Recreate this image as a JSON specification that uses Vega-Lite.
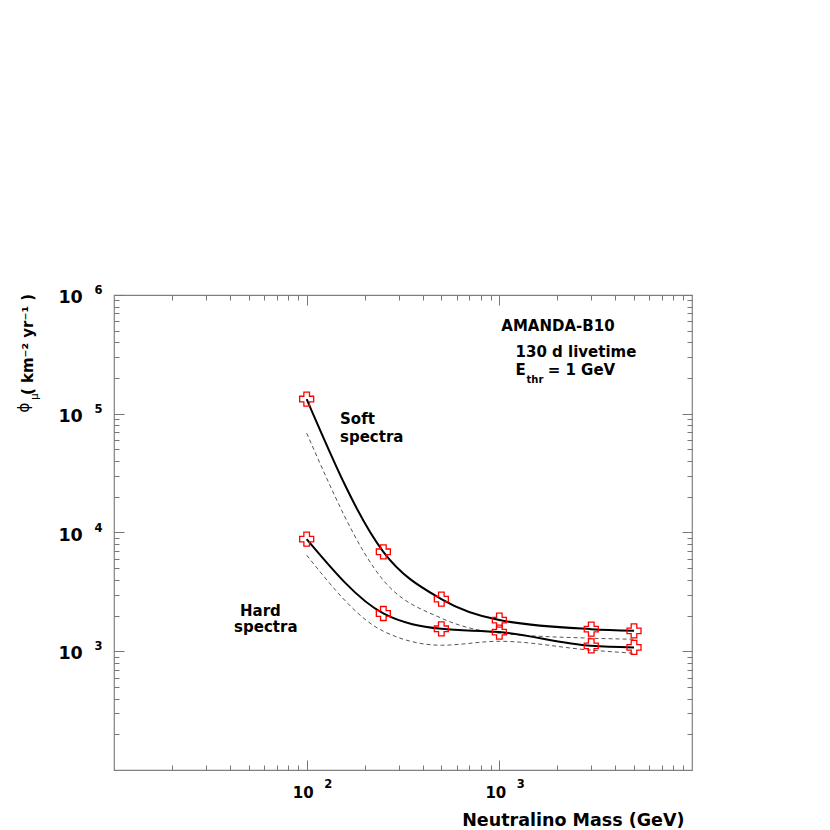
{
  "$schema": "https://vega.github.io/schema/vega-lite/v6.json",
  "width": 578,
  "height": 475,
  "autosize": {"type": "none"},
  "padding": {"left": 114, "top": 295, "right": 138, "bottom": 60},
  "background": "white",
  "config": {
    "view": {"stroke": "#808080", "strokeWidth": 1.2},
    "axis": {"domain": false, "grid": false, "labelFont": "DejaVu Sans", "titleFont": "DejaVu Sans", "labelColor": "black", "titleColor": "black", "tickColor": "#777777", "tickWidth": 1, "labelOverlap": false, "labelFlush": false, "labelBound": false},
    "text": {"font": "DejaVu Sans"}
  },
  "datasets": {
    "curves": [
      {"spectrum": "Soft", "kind": "solid", "mass": 100, "flux": 133000},
      {"spectrum": "Soft", "kind": "solid", "mass": 250, "flux": 6880},
      {"spectrum": "Soft", "kind": "solid", "mass": 500, "flux": 2750},
      {"spectrum": "Soft", "kind": "solid", "mass": 1000, "flux": 1830},
      {"spectrum": "Soft", "kind": "solid", "mass": 3000, "flux": 1535},
      {"spectrum": "Soft", "kind": "solid", "mass": 5000, "flux": 1485},
      {"spectrum": "Hard", "kind": "solid", "mass": 100, "flux": 8790},
      {"spectrum": "Hard", "kind": "solid", "mass": 250, "flux": 2080},
      {"spectrum": "Hard", "kind": "solid", "mass": 500, "flux": 1545},
      {"spectrum": "Hard", "kind": "solid", "mass": 1000, "flux": 1450},
      {"spectrum": "Hard", "kind": "solid", "mass": 3000, "flux": 1110},
      {"spectrum": "Hard", "kind": "solid", "mass": 5000, "flux": 1077},
      {"spectrum": "Soft", "kind": "dashed", "mass": 100, "flux": 68700},
      {"spectrum": "Soft", "kind": "dashed", "mass": 250, "flux": 3960},
      {"spectrum": "Soft", "kind": "dashed", "mass": 500, "flux": 1900},
      {"spectrum": "Soft", "kind": "dashed", "mass": 1000, "flux": 1420},
      {"spectrum": "Soft", "kind": "dashed", "mass": 3000, "flux": 1288},
      {"spectrum": "Soft", "kind": "dashed", "mass": 5000, "flux": 1262},
      {"spectrum": "Hard", "kind": "dashed", "mass": 100, "flux": 6440},
      {"spectrum": "Hard", "kind": "dashed", "mass": 250, "flux": 1475},
      {"spectrum": "Hard", "kind": "dashed", "mass": 500, "flux": 1124},
      {"spectrum": "Hard", "kind": "dashed", "mass": 1000, "flux": 1213},
      {"spectrum": "Hard", "kind": "dashed", "mass": 3000, "flux": 1021},
      {"spectrum": "Hard", "kind": "dashed", "mass": 5000, "flux": 962}
    ],
    "notes": [
      {"label": "AMANDA-B10", "mass": 1024, "flux": 498000},
      {"label": "130 d livetime", "mass": 1214, "flux": 301000},
      {"label": "E", "mass": 1214, "flux": 212000},
      {"label": "= 1 GeV", "mass": 1782, "flux": 212000},
      {"label": "Soft", "mass": 149, "flux": 81500},
      {"label": "spectra", "mass": 149, "flux": 57800},
      {"label": "Hard", "mass": 45.1, "flux": 2000},
      {"label": "spectra", "mass": 42.0, "flux": 1449}
    ],
    "subs": [
      {"label": "thr", "mass": 1384, "flux": 181700}
    ]
  },
  "layer": [
    {
      "data": {"name": "curves"},
      "transform": [{"filter": "datum.kind == 'dashed'"}],
      "mark": {"type": "line", "interpolate": "monotone", "strokeDash": [4, 3], "strokeWidth": 1, "color": "#555555"},
      "encoding": {
        "x": {
          "field": "mass", "type": "quantitative",
          "scale": {"type": "log", "domain": [10, 10000], "nice": false},
          "axis": {
            "orient": "bottom",
            "values": [20, 30, 40, 50, 60, 70, 80, 90, 100, 200, 300, 400, 500, 600, 700, 800, 900, 1000, 2000, 3000, 4000, 5000, 6000, 7000, 8000, 9000],
            "tickSize": {"condition": {"test": "datum.value == 100 || datum.value == 1000", "value": -10}, "value": -5},
            "labelExpr": "datum.value == 100 || datum.value == 1000 ? '10' : ''",
            "labelFontSize": 15, "labelFontWeight": "bold", "labelBaseline": "alphabetic", "labelPadding": 37, "labelOffset": -4,
            "title": "Neutralino Mass (GeV)", "titleFontSize": 17.5, "titleFontWeight": "bold", "titleAlign": "right", "titleBaseline": "alphabetic", "titleAnchor": "end", "titleX": 570, "titleY": 55
          }
        },
        "y": {
          "field": "flux", "type": "quantitative",
          "scale": {"type": "log", "domain": [100, 1000000], "nice": false},
          "axis": {
            "orient": "left",
            "values": [200, 300, 400, 500, 600, 700, 800, 900, 1000, 2000, 3000, 4000, 5000, 6000, 7000, 8000, 9000, 10000, 20000, 30000, 40000, 50000, 60000, 70000, 80000, 90000, 100000, 200000, 300000, 400000, 500000, 600000, 700000, 800000, 900000, 1000000],
            "tickSize": {"condition": {"test": "datum.value == 1000 || datum.value == 10000 || datum.value == 100000 || datum.value == 1000000", "value": -10}, "value": -5},
            "labelExpr": "datum.value == 1000 || datum.value == 10000 || datum.value == 100000 || datum.value == 1000000 ? '10' : ''",
            "labelFontSize": 17.5, "labelFontWeight": "bold", "labelAlign": "right", "labelBaseline": "alphabetic", "labelPadding": 41.7, "labelOffset": 7.5,
            "title": "( km⁻² yr⁻¹ )", "titleFontSize": 15, "titleFontWeight": "bold", "titleAngle": 270, "titleAlign": "center", "titleBaseline": "alphabetic", "titleX": -82, "titleY": 49
          }
        },
        "detail": {"field": "spectrum"}
      }
    },
    {
      "data": {"name": "curves"},
      "transform": [{"filter": "datum.kind == 'solid'"}],
      "mark": {"type": "line", "interpolate": "monotone", "strokeWidth": 2, "color": "black"},
      "encoding": {
        "x": {
          "field": "mass", "type": "quantitative",
          "scale": {"type": "log", "domain": [10, 10000], "nice": false},
          "axis": {
            "orient": "bottom", "values": [100, 1000], "ticks": false,
            "labelExpr": "datum.value == 100 ? '2' : '3'",
            "labelFontSize": 11.5, "labelFontWeight": "bold", "labelAlign": "left", "labelBaseline": "alphabetic", "labelPadding": 17, "labelOffset": 17,
            "title": null
          }
        },
        "y": {
          "field": "flux", "type": "quantitative",
          "scale": {"type": "log", "domain": [100, 1000000], "nice": false},
          "axis": {
            "orient": "left", "values": [1000, 10000, 100000, 1000000], "ticks": false,
            "labelExpr": "'' + round(log(datum.value) / LN10)",
            "labelFontSize": 11.5, "labelFontWeight": "bold", "labelAlign": "left", "labelBaseline": "alphabetic", "labelPadding": 20, "labelOffset": -1.5,
            "title": "ϕ", "titleFontSize": 15, "titleFontWeight": "normal", "titleAngle": 270, "titleAlign": "center", "titleBaseline": "alphabetic", "titleX": -86, "titleY": 112
          }
        },
        "detail": {"field": "spectrum"}
      }
    },
    {
      "data": {"name": "curves"},
      "transform": [{"filter": "datum.kind == 'solid'"}],
      "mark": {"type": "point", "shape": "cross", "size": 196, "filled": false, "stroke": "#ff0000", "strokeWidth": 1.3, "opacity": 1},
      "encoding": {
        "x": {
          "field": "mass", "type": "quantitative",
          "scale": {"type": "log", "domain": [10, 10000], "nice": false},
          "axis": {
            "orient": "top",
            "values": [20, 30, 40, 50, 60, 70, 80, 90, 100, 200, 300, 400, 500, 600, 700, 800, 900, 1000, 2000, 3000, 4000, 5000, 6000, 7000, 8000, 9000],
            "tickSize": {"condition": {"test": "datum.value == 100 || datum.value == 1000", "value": -10}, "value": -5},
            "labels": false, "title": null
          }
        },
        "y": {
          "field": "flux", "type": "quantitative",
          "scale": {"type": "log", "domain": [100, 1000000], "nice": false},
          "axis": {
            "orient": "right",
            "values": [200, 300, 400, 500, 600, 700, 800, 900, 1000, 2000, 3000, 4000, 5000, 6000, 7000, 8000, 9000, 10000, 20000, 30000, 40000, 50000, 60000, 70000, 80000, 90000, 100000, 200000, 300000, 400000, 500000, 600000, 700000, 800000, 900000, 1000000],
            "tickSize": {"condition": {"test": "datum.value == 1000 || datum.value == 10000 || datum.value == 100000 || datum.value == 1000000", "value": -10}, "value": -5},
            "labels": false,
            "title": "μ", "titleFontSize": 10, "titleFontWeight": "normal", "titleAngle": 270, "titleAlign": "center", "titleBaseline": "alphabetic", "titleX": -655, "titleY": 101
          }
        }
      }
    },
    {
      "data": {"name": "notes"},
      "mark": {"type": "text", "align": "left", "baseline": "alphabetic", "fontSize": 15, "fontWeight": "bold", "color": "black"},
      "encoding": {
        "x": {"field": "mass", "type": "quantitative", "scale": {"type": "log", "domain": [10, 10000], "nice": false}, "axis": null},
        "y": {"field": "flux", "type": "quantitative", "scale": {"type": "log", "domain": [100, 1000000], "nice": false}, "axis": null},
        "text": {"field": "label"}
      }
    },
    {
      "data": {"name": "subs"},
      "mark": {"type": "text", "align": "left", "baseline": "alphabetic", "fontSize": 10, "fontWeight": "bold", "color": "black"},
      "encoding": {
        "x": {"field": "mass", "type": "quantitative", "scale": {"type": "log", "domain": [10, 10000], "nice": false}, "axis": null},
        "y": {"field": "flux", "type": "quantitative", "scale": {"type": "log", "domain": [100, 1000000], "nice": false}, "axis": null},
        "text": {"field": "label"}
      }
    }
  ],
  "resolve": {"scale": {"x": "independent", "y": "independent"}}
}
